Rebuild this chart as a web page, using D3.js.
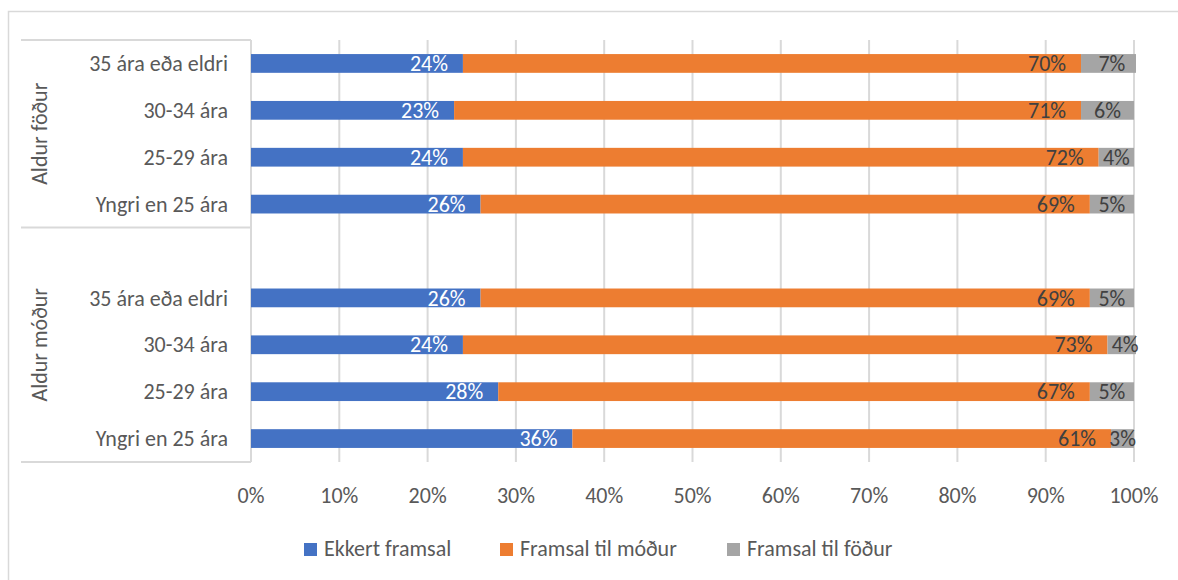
<!DOCTYPE html>
<html>
<head>
<meta charset="utf-8">
<script src="https://cdnjs.cloudflare.com/ajax/libs/d3/7.8.5/d3.min.js"></script>
<style>
    body { margin: 0; background: #fff; }
    text { font-family: Calibri, Carlito, Lato, sans-serif; font-size: 22px; }
</style>
</head>
<body>
<svg id="chart" width="1178" height="580"></svg>
<script>
// Category labels (top to bottom inside each group)
const categories = ["35 ára eða eldri", "30-34 ára", "25-29 ára", "Yngri en 25 ára"];
const groups = ["Aldur föður", "Aldur móður"];
const series = ["Ekkert framsal", "Framsal til móður", "Framsal til föður"];
const colors = ["#4472C4", "#ED7D31", "#A5A5A5"];

// Values in % (father's age group)
const fathers_ekkert = [24, 23, 24, 26];
const fathers_modur = [70, 71, 72, 69];
const fathers_fodur = [7, 6, 4, 5];
// Values in % (mother's age group)
const mothers_ekkert = [26, 24, 28, 36.4];
const mothers_modur = [69, 73, 67, 61];
const mothers_fodur = [5, 4, 5, 2.6];

const x_ticks = [0, 10, 20, 30, 40, 50, 60, 70, 80, 90, 100];

// Build rows, with an empty slot between the two groups
let rows = [];
categories.forEach(function(c, i) {
    rows.push({key: "f" + i, label: c, values: [fathers_ekkert[i], fathers_modur[i], fathers_fodur[i]]});
});
rows.push({key: "gap", label: "", values: null});
categories.forEach(function(c, i) {
    rows.push({key: "m" + i, label: c, values: [mothers_ekkert[i], mothers_modur[i], mothers_fodur[i]]});
});

let svg = d3.select("#chart");
let plot = {left: 251, right: 1134, top: 40, bottom: 462};

// Outer chart border
svg.append("rect")
    .attr("x", 8.5).attr("y", 11.5)
    .attr("width", 1200).attr("height", 600)
    .attr("fill", "none")
    .attr("stroke", "#D9D9D9")
    .attr("stroke-width", 1.5);

let x = d3.scaleLinear().domain([0, 100]).range([plot.left, plot.right]);
let y = d3.scaleBand()
    .domain(rows.map(function(d) { return d.key; }))
    .range([plot.top, plot.bottom])
    .paddingInner(0.6)
    .paddingOuter(0.3);

// Gridlines
svg.append("g")
    .selectAll("line")
    .data(x_ticks)
    .enter().append("line")
    .attr("x1", function(d) { return x(d); })
    .attr("x2", function(d) { return x(d); })
    .attr("y1", plot.top)
    .attr("y2", plot.bottom)
    .attr("stroke", "#D9D9D9")
    .attr("stroke-width", 2);

// Category axis box lines (top, between groups, bottom)
let group_edges = [plot.top, plot.top + y.step() * categories.length, plot.bottom];
svg.append("g")
    .selectAll("line")
    .data(group_edges)
    .enter().append("line")
    .attr("x1", 21)
    .attr("x2", plot.left)
    .attr("y1", function(d) { return d; })
    .attr("y2", function(d) { return d; })
    .attr("stroke", "#D9D9D9")
    .attr("stroke-width", 2);

// Clip bars at the plot edge
svg.append("clipPath").attr("id", "plot-clip")
    .append("rect")
    .attr("x", plot.left).attr("y", plot.top)
    .attr("width", plot.right - plot.left + 2)
    .attr("height", plot.bottom - plot.top);

// Stack values for each row
let segments = [];
rows.forEach(function(r) {
    if (!r.values) return;
    let start = 0;
    r.values.forEach(function(v, j) {
        segments.push({key: r.key, series: j, x0: start, x1: start + v, value: v});
        start += v;
    });
});

svg.append("g")
    .attr("clip-path", "url(#plot-clip)")
    .selectAll("rect")
    .data(segments)
    .enter().append("rect")
    .attr("x", function(d) { return x(d.x0); })
    .attr("width", function(d) { return x(d.x1) - x(d.x0); })
    .attr("y", function(d) { return y(d.key); })
    .attr("height", y.bandwidth())
    .attr("fill", function(d) { return colors[d.series]; });

// Data labels: inside end for first two series, centered for the last
let fmt = function(v) { return d3.format(".0f")(v) + "%"; };
svg.append("g")
    .selectAll("text")
    .data(segments)
    .enter().append("text")
    .attr("x", function(d) {
        if (d.series === 2) return (x(d.x0) + x(d.x1)) / 2;
        return x(d.x1) - 15;
    })
    .attr("y", function(d) { return y(d.key) + y.bandwidth() / 2; })
    .attr("dy", "0.35em")
    .style("text-anchor", function(d) { return d.series === 2 ? "middle" : "end"; })
    .attr("fill", function(d) { return d.series === 0 ? "#FFFFFF" : "#404040"; })
    .text(function(d) { return fmt(d.value); });

// Category labels
svg.append("g")
    .selectAll("text")
    .data(rows.filter(function(r) { return r.values; }))
    .enter().append("text")
    .attr("x", 228)
    .attr("y", function(d) { return y(d.key) + y.bandwidth() / 2; })
    .attr("dy", "0.35em")
    .style("text-anchor", "end")
    .attr("fill", "#595959")
    .text(function(d) { return d.label; });

// Group labels (rotated)
let group_centers = [(group_edges[0] + group_edges[1]) / 2, (group_edges[1] + group_edges[2]) / 2];
svg.append("g")
    .selectAll("text")
    .data(groups)
    .enter().append("text")
    .attr("transform", function(d, i) { return `translate(${47}, ${group_centers[i]}) rotate(-90)`; })
    .style("text-anchor", "middle")
    .attr("fill", "#595959")
    .text(function(d) { return d; });

// X tick labels
svg.append("g")
    .selectAll("text")
    .data(x_ticks)
    .enter().append("text")
    .attr("x", function(d) { return x(d); })
    .attr("y", 503)
    .style("text-anchor", "middle")
    .attr("fill", "#595959")
    .text(function(d) { return d + "%"; });

// Legend
let legend_x = [304, 500, 727];
let legend = svg.append("g")
    .selectAll("g")
    .data(series)
    .enter().append("g")
    .attr("transform", function(d, i) { return `translate(${legend_x[i]}, ${543})`; });
legend.append("rect")
    .attr("width", 13).attr("height", 13)
    .attr("fill", function(d, i) { return colors[i]; });
legend.append("text")
    .attr("x", 20).attr("y", 13)
    .attr("fill", "#595959")
    .text(function(d) { return d; });
</script>
</body>
</html>
